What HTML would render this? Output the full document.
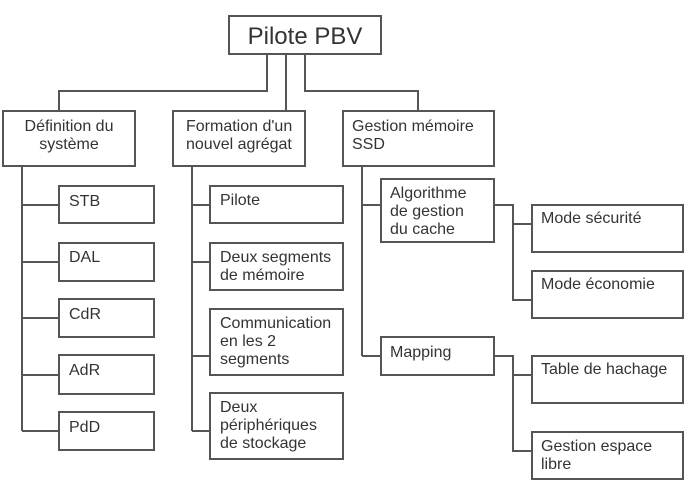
<!DOCTYPE html>
<html><head><meta charset="utf-8"><style>
html,body{margin:0;padding:0;background:#fff;width:700px;height:500px;overflow:hidden}
text{font-family:"Liberation Sans",sans-serif;fill:#333;font-size:16px}
</style></head><body>
<svg width="700" height="500" viewBox="0 0 700 500" xmlns="http://www.w3.org/2000/svg">
<g fill="none" stroke="#555" stroke-width="2">
<path d="M267 54V91H59V111M286 54V111M305 54V91H418V111"/>
<path d="M22 166V431M22 205H59M22 262H59M22 318H59M22 375H59M22 431H59"/>
<path d="M192 166V431M192 205H210M192 262H210M192 356H210M192 431H210"/>
<path d="M362 166V356M362 205H381M362 356H381"/>
<path d="M494 205H513V300H532M513 224H532M494 356H513V451H532M513 375H532"/>
<rect x="229" y="16" width="152" height="38"/>
<rect x="3" y="111" width="132" height="55"/>
<rect x="173" y="111" width="132" height="55"/>
<rect x="343" y="111" width="151" height="55"/>
<rect x="59" y="186" width="95" height="37"/>
<rect x="59" y="243" width="95" height="38"/>
<rect x="59" y="299" width="95" height="38"/>
<rect x="59" y="355" width="95" height="39"/>
<rect x="59" y="412" width="95" height="38"/>
<rect x="210" y="186" width="133" height="37"/>
<rect x="210" y="243" width="133" height="47"/>
<rect x="210" y="309" width="133" height="66"/>
<rect x="210" y="393" width="133" height="66"/>
<rect x="381" y="179" width="113" height="63"/>
<rect x="381" y="337" width="113" height="38"/>
<rect x="532" y="205" width="151" height="47"/>
<rect x="532" y="271" width="151" height="47"/>
<rect x="532" y="356" width="151" height="47"/>
<rect x="532" y="432" width="151" height="47"/>
</g>
<text x="305" y="44" text-anchor="middle" style="font-size:24px">Pilote PBV</text>
<text x="69" y="131" text-anchor="middle">Définition du</text>
<text x="69" y="149" text-anchor="middle">système</text>
<text x="186" y="131">Formation d'un</text>
<text x="186" y="149">nouvel agrégat</text>
<text x="352" y="131">Gestion mémoire</text>
<text x="352" y="149">SSD</text>
<text x="69" y="206">STB</text>
<text x="69" y="262">DAL</text>
<text x="69" y="319">CdR</text>
<text x="69" y="375">AdR</text>
<text x="69" y="432">PdD</text>
<text x="220" y="205">Pilote</text>
<text x="220" y="262">Deux segments</text>
<text x="220" y="280">de mémoire</text>
<text x="220" y="328">Communication</text>
<text x="220" y="346">en les 2</text>
<text x="220" y="364">segments</text>
<text x="220" y="412">Deux</text>
<text x="220" y="430">périphériques</text>
<text x="220" y="448">de stockage</text>
<text x="390" y="198">Algorithme</text>
<text x="390" y="216">de gestion</text>
<text x="390" y="234">du cache</text>
<text x="390" y="357">Mapping</text>
<text x="541" y="223">Mode sécurité</text>
<text x="541" y="289">Mode économie</text>
<text x="541" y="374">Table de hachage</text>
<text x="541" y="451">Gestion espace</text>
<text x="541" y="469">libre</text>
</svg>
</body></html>
